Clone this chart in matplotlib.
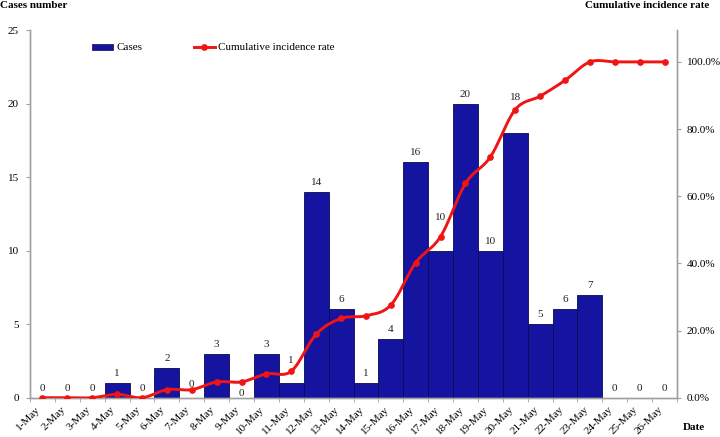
import matplotlib
matplotlib.use('Agg')
import matplotlib.pyplot as plt
import numpy as np
from matplotlib.lines import Line2D
from matplotlib.patches import Patch
from matplotlib.ticker import FuncFormatter, FixedLocator

plt.rcParams['font.family'] = ['Liberation Serif', 'DejaVu Serif']

dates = ["1-May", "2-May", "3-May", "4-May", "5-May", "6-May", "7-May", "8-May",
         "9-May", "10-May", "11-May", "12-May", "13-May", "14-May", "15-May",
         "16-May", "17-May", "18-May", "19-May", "20-May", "21-May", "22-May",
         "23-May", "24-May", "25-May", "26-May"]
cases = [0, 0, 0, 1, 0, 2, 0, 3, 0, 3, 1, 14, 6, 1, 4, 16, 10, 20, 10, 18, 5, 6, 7, 0, 0, 0]
rate = [0.0, 0.0, 0.0, 1.0, 0.0, 2.4, 2.4, 4.7, 4.7, 7.1, 7.9, 18.9, 23.6, 24.4, 27.6,
        40.2, 48.0, 63.8, 71.7, 85.8, 89.8, 94.5, 100.0, 100.0, 100.0, 100.0]

# extra vertical nudges (pixels) of value labels, as placed in the reference
label_nudge = {6: 4, 8: -5.5, 10: 12.5, 16: 23.5, 19: 25.5}

BAR = '#1414A0'
RED = '#F01414'
GRAY = '#A0A0A0'

fig = plt.figure(figsize=(7.2, 4.37), dpi=100)
ax = fig.add_axes([30/720, 1-397.7/437, 647/720, (397.7-30)/437])
ax2 = ax.twinx()

x = np.arange(len(dates))
ax.bar(x, cases, width=1.0, color=BAR, edgecolor='#0A0A50', linewidth=0.6, zorder=2)

# value labels
for i, v in enumerate(cases):
    off = 9.5 + label_nudge.get(i, 0)
    ax.annotate(str(v), (x[i], v), xytext=(0, off * 72 / 100), textcoords='offset points',
                ha='center', va='center', fontsize=8, color='#222222', zorder=3)

ax.set_xlim(-0.5, len(dates) - 0.5)
ax.set_ylim(0, 25)
ax.set_yticks([0, 5, 10, 15, 20, 25])
ax.xaxis.set_major_locator(FixedLocator(x))
ax.set_xticklabels(dates, rotation=45, ha='right', fontsize=8)
ax.xaxis.set_minor_locator(FixedLocator(np.arange(len(dates) + 1) - 0.5))
ax.tick_params(axis='x', which='major', length=0, pad=5)
ax.tick_params(axis='x', which='minor', length=3, direction='out', color=GRAY)
ax.tick_params(axis='y', length=3, direction='out', color=GRAY, labelsize=8, pad=5)

# smoothed line (Excel-style Catmull-Rom rendering through the data points)
px = x.astype(float)
py = np.array(rate) / 100.0
P = np.column_stack([px, py])
Pe = np.vstack([P[0], P, P[-1]])
sx, sy = [], []
t = np.linspace(0, 1, 20)
for k in range(len(P) - 1):
    p0, p1, p2, p3 = Pe[k], Pe[k+1], Pe[k+2], Pe[k+3]
    c1 = p1 + (p2 - p0) / 6.0
    c2 = p2 - (p3 - p1) / 6.0
    b = ((1-t)**3)[:, None]*p1 + (3*(1-t)**2*t)[:, None]*c1 + (3*(1-t)*t**2)[:, None]*c2 + (t**3)[:, None]*p2
    sx.extend(b[:, 0]); sy.extend(b[:, 1])
ax2.plot(sx, sy, color=RED, lw=2.1, solid_capstyle='round', zorder=4)
ax2.plot(px, py, 'o', color=RED, ms=3.8, zorder=5)

ax2.set_ylim(0, 1.095)
ax2.set_yticks([0, 0.2, 0.4, 0.6, 0.8, 1.0])
ax2.yaxis.set_major_formatter(FuncFormatter(lambda v, p: f"{v*100:.1f}%"))
ax2.tick_params(axis='y', length=3, direction='out', color=GRAY, labelsize=8, pad=4)

for a in (ax, ax2):
    a.spines['top'].set_visible(False)
    for s in ('left', 'right', 'bottom'):
        a.spines[s].set_color(GRAY)
        a.spines[s].set_linewidth(1.0)

handles = [Patch(facecolor=BAR, edgecolor='#0A0A50', linewidth=0.5, label='Cases'),
           Line2D([0], [0], color=RED, lw=2.1, marker='o', ms=3.8, label='Cumulative incidence rate')]
ax2.legend(handles=handles, loc='center left', bbox_to_anchor=(92/720, 1-48/437),
           bbox_transform=fig.transFigure, ncol=2, frameon=False, fontsize=8,
           handlelength=1.9, handleheight=0.45, handletextpad=0.3, columnspacing=4.6,
           borderpad=0, borderaxespad=0)

fig.text(0/720, 1-5/437, 'Cases number', fontsize=8, fontweight='bold', ha='left', va='center')
fig.text(709/720, 1-5/437, 'Cumulative incidence rate', fontsize=8, fontweight='bold', ha='right', va='center')
fig.text(683/720, 1-428/437, 'Date', fontsize=8, fontweight='bold', ha='left', va='center')

fig.savefig('out.png', dpi=100)
